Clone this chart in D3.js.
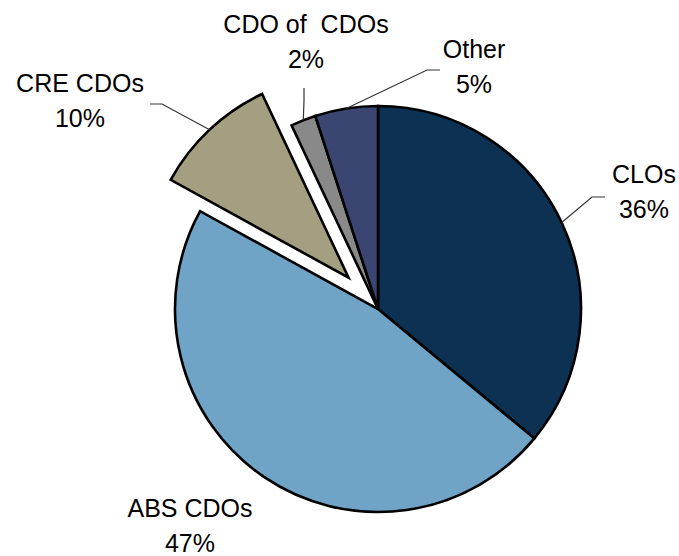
<!DOCTYPE html>
<html>
<head>
<meta charset="utf-8">
<script src="https://cdn.jsdelivr.net/npm/d3@7/dist/d3.min.js"></script>
<style>
  html, body { margin: 0; padding: 0; background: #ffffff; }
  svg { display: block; }
  text { font-family: "Liberation Sans", Arial, sans-serif; font-size: 25px; fill: #000; }
</style>
</head>
<body>
<svg id="chart" width="679" height="556"></svg>
<script>
// Composition of CDO issuance by collateral type (%)
const categories = ["CLOs", "ABS CDOs", "CRE CDOs", "CDO of  CDOs", "Other"];
const shares = [36, 47, 10, 2, 5];
const colors = ["#0c3152", "#6fa4c7", "#a59f81", "#898989", "#3b4571"];
const exploded = ["CRE CDOs"];

const width = 679, height = 556;
const cx = 378, cy = 309, radius = 203, explodeBy = 43;

// label layout: text centre, first baseline, and leader-line elbow/end (null = no leader)
const labelLayout = {
  "CLOs":         { x: 644, y: 183, leader: [[592, 197], [605, 197]] },
  "ABS CDOs":     { x: 190, y: 517, leader: null },
  "CRE CDOs":     { x: 80,  y: 92,  leader: [[162, 104], [150, 104]] },
  "CDO of  CDOs": { x: 306, y: 33,  leader: [[304, 101], [304, 88]] },
  "Other":        { x: 474, y: 58,  leader: [[427, 70], [440, 70]] }
};

const data = categories.map((c, i) => ({ name: c, value: shares[i], color: colors[i] }));

const pie = d3.pie().value(d => d.value).sort(null).startAngle(0).endAngle(2 * Math.PI);
const arcs = pie(data);
const arc = d3.arc().innerRadius(0).outerRadius(radius);

const svg = d3.select("#chart");
const g = svg.append("g").attr("transform", `translate(${cx},${cy})`);

function offsetOf(d) {
  if (!exploded.includes(d.data.name)) return [0, 0];
  const a = (d.startAngle + d.endAngle) / 2;
  return [Math.sin(a) * explodeBy, -Math.cos(a) * explodeBy];
}

// leader lines
const lines = svg.append("g");
arcs.forEach(d => {
  const L = labelLayout[d.data.name];
  if (!L.leader) return;
  const [ox, oy] = offsetOf(d);
  const a = (d.startAngle + d.endAngle) / 2;
  const anchor = [cx + ox + Math.sin(a) * radius, cy + oy - Math.cos(a) * radius];
  lines.append("path")
    .attr("d", d3.line()([anchor, ...L.leader]))
    .attr("fill", "none")
    .attr("stroke", "#333")
    .attr("stroke-width", 1.2);
});

// slices
g.selectAll("path.slice")
  .data(arcs)
  .join("path")
  .attr("class", "slice")
  .attr("transform", d => `translate(${offsetOf(d)})`)
  .attr("d", arc)
  .attr("fill", d => d.data.color)
  .attr("stroke", "#000")
  .attr("stroke-width", 2.6)
  .attr("stroke-linejoin", "miter");

// labels
const labels = svg.append("g");
arcs.forEach(d => {
  const L = labelLayout[d.data.name];
  const t = labels.append("text").attr("text-anchor", "middle").attr("xml:space", "preserve");
  t.append("tspan").attr("x", L.x).attr("y", L.y).text(d.data.name);
  t.append("tspan").attr("x", L.x).attr("y", L.y + 35).text(d.data.value + "%");
});
</script>
</body>
</html>
